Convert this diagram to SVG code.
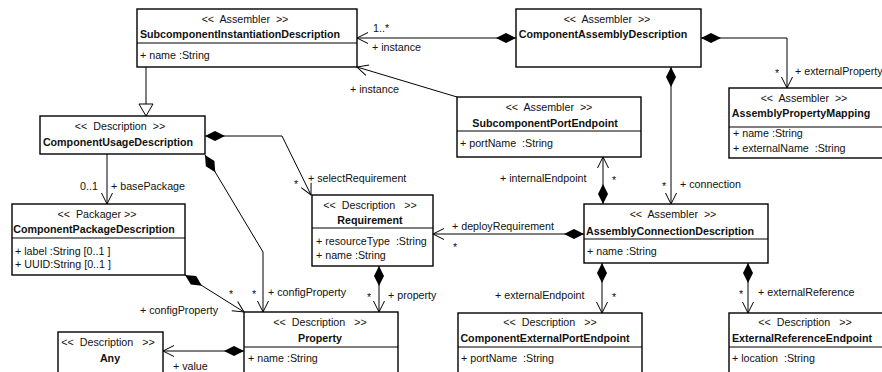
<svg xmlns="http://www.w3.org/2000/svg" width="882" height="372" viewBox="0 0 882 372">
<style>
text{font-family:"Liberation Sans",Arial,sans-serif;font-size:10.7px;fill:#111;white-space:pre}
.st{text-anchor:middle}
.nm{text-anchor:middle;font-weight:bold}
.box{fill:#fff;stroke:#000;stroke-width:1.4}
.div{stroke:#000;stroke-width:1.2}
.con{fill:none;stroke:#000;stroke-width:1}
</style>
<defs>
<marker id="arr" markerUnits="userSpaceOnUse" markerWidth="14" markerHeight="14" viewBox="-13 -7 14 14" refX="0" refY="0" orient="auto"><path d="M-11,-5.5 L0,0 L-11,5.5" fill="none" stroke="#000" stroke-width="1"/></marker>
<marker id="dia" markerUnits="userSpaceOnUse" markerWidth="22" markerHeight="12" viewBox="0 -6 22 12" refX="0" refY="0" orient="auto"><path d="M0,0 L10,-5 L20,0 L10,5 Z" fill="#000"/></marker>
<marker id="tri" markerUnits="userSpaceOnUse" markerWidth="16" markerHeight="16" viewBox="-14 -8 16 16" refX="0" refY="0" orient="auto"><path d="M-12,-7 L0,0 L-12,7 Z" fill="#fff" stroke="#000" stroke-width="1"/></marker>
</defs>
<rect width="882" height="372" fill="#fff"/>

<g id="connectors">
<path class="con" d="M146,67 L146,116" marker-end="url(#tri)"/>
<path class="con" d="M516,38 L357,38" marker-start="url(#dia)" marker-end="url(#arr)"/>
<path class="con" d="M457,97 L357,67" marker-end="url(#arr)"/>
<path class="con" d="M701,38 L787,38 L787,88" marker-start="url(#dia)" marker-end="url(#arr)"/>
<path class="con" d="M671,67 L671,204" marker-start="url(#dia)" marker-end="url(#arr)"/>
<path class="con" d="M603,204 L603,157" marker-start="url(#dia)" marker-end="url(#arr)"/>
<path class="con" d="M584,234 L433,234" marker-start="url(#dia)" marker-end="url(#arr)"/>
<path class="con" d="M602,263 L602,313" marker-start="url(#dia)" marker-end="url(#arr)"/>
<path class="con" d="M748,263 L748,313" marker-start="url(#dia)" marker-end="url(#arr)"/>
<path class="con" d="M379,266 L379,312" marker-start="url(#dia)" marker-end="url(#arr)"/>
<path class="con" d="M244,351 L163,351" marker-start="url(#dia)" marker-end="url(#arr)"/>
<path class="con" d="M205,136 L282,136 L311,195" marker-start="url(#dia)" marker-end="url(#arr)"/>
<path class="con" d="M205,155 L263,252 L263,312" marker-start="url(#dia)" marker-end="url(#arr)"/>
<path class="con" d="M185,275 L244,312" marker-start="url(#dia)" marker-end="url(#arr)"/>
<path class="con" d="M107,154 L107,204" marker-end="url(#arr)"/>
<text x="373" y="32">1..*</text>
<text x="372" y="51">+ instance</text>
<text x="350" y="93">+ instance</text>
<text x="775" y="77">*</text>
<text x="795" y="75">+ externalProperty</text>
<text x="662" y="190">*</text>
<text x="680" y="188">+ connection</text>
<text x="500" y="182">+ internalEndpoint</text>
<text x="612" y="184">*</text>
<text x="452" y="230">+ deployRequirement</text>
<text x="453" y="251">*</text>
<text x="308" y="182">+ selectRequirement</text>
<text x="294" y="188">*</text>
<text x="80" y="190">0..1</text>
<text x="111" y="190">+ basePackage</text>
<text x="229" y="298">*</text>
<text x="140" y="314">+ configProperty</text>
<text x="252" y="298">*</text>
<text x="268" y="296">+ configProperty</text>
<text x="367" y="301">*</text>
<text x="388" y="299">+ property</text>
<text x="173" y="370">+ value</text>
<text x="495" y="299">+ externalEndpoint</text>
<text x="612" y="301">*</text>
<text x="739" y="298">*</text>
<text x="758" y="296">+ externalReference</text>
</g>

<g id="SubcomponentInstantiationDescription">
<rect class="box" x="137" y="9" width="220" height="58"/>
<line class="div" x1="137" y1="43" x2="357" y2="43"/>
<text class="st" x="245" y="23">&lt;&lt;  Assembler  &gt;&gt;</text>
<text class="nm" x="240" y="38">SubcomponentInstantiationDescription</text>
<text x="140" y="59">+ name :String</text>
</g>

<g id="ComponentAssemblyDescription">
<rect class="box" x="516" y="9" width="185" height="58"/>
<text class="st" x="607" y="23">&lt;&lt;  Assembler  &gt;&gt;</text>
<text class="nm" x="603" y="38">ComponentAssemblyDescription</text>
</g>

<g id="ComponentUsageDescription">
<rect class="box" x="40" y="116" width="165" height="38"/>
<text class="st" x="120" y="130">&lt;&lt;  Description  &gt;&gt;</text>
<text class="nm" x="118" y="146">ComponentUsageDescription</text>
</g>

<g id="SubcomponentPortEndpoint">
<rect class="box" x="457" y="97" width="184" height="60"/>
<line class="div" x1="457" y1="131" x2="641" y2="131"/>
<text class="st" x="549" y="111">&lt;&lt;  Assembler  &gt;&gt;</text>
<text class="nm" x="545" y="127">SubcomponentPortEndpoint</text>
<text x="460" y="147">+ portName  :String</text>
</g>

<g id="AssemblyPropertyMapping">
<rect class="box" x="729" y="88" width="165" height="70"/>
<line class="div" x1="729" y1="127" x2="894" y2="127"/>
<text class="st" x="804" y="102">&lt;&lt;  Assembler  &gt;&gt;</text>
<text class="nm" x="801" y="117">AssemblyPropertyMapping</text>
<text x="733" y="137">+ name :String</text>
<text x="733" y="152">+ externalName  :String</text>
</g>

<g id="ComponentPackageDescription">
<rect class="box" x="12" y="204" width="173" height="71"/>
<line class="div" x1="12" y1="238" x2="185" y2="238"/>
<text class="st" x="97" y="218">&lt;&lt;  Packager &gt;&gt;</text>
<text class="nm" x="94" y="233">ComponentPackageDescription</text>
<text x="15" y="255">+ label :String [0..1 ]</text>
<text x="15" y="268">+ UUID:String [0..1 ]</text>
</g>

<g id="Requirement">
<rect class="box" x="312" y="195" width="121" height="71"/>
<line class="div" x1="312" y1="228" x2="433" y2="228"/>
<text class="st" x="370" y="209">&lt;&lt;  Description   &gt;&gt;</text>
<text class="nm" x="370" y="224">Requirement</text>
<text x="316" y="245">+ resourceType  :String</text>
<text x="316" y="259">+ name :String</text>
</g>

<g id="AssemblyConnectionDescription">
<rect class="box" x="584" y="204" width="184" height="59"/>
<line class="div" x1="584" y1="239" x2="768" y2="239"/>
<text class="st" x="673" y="218">&lt;&lt;  Assembler  &gt;&gt;</text>
<text class="nm" x="670" y="235">AssemblyConnectionDescription</text>
<text x="587" y="255">+ name :String</text>
</g>

<g id="Any">
<rect class="box" x="58" y="332" width="105" height="50"/>
<text class="st" x="108" y="346">&lt;&lt;  Description   &gt;&gt;</text>
<text class="nm" x="110" y="362">Any</text>
</g>

<g id="Property">
<rect class="box" x="244" y="312" width="154" height="70"/>
<line class="div" x1="244" y1="347" x2="398" y2="347"/>
<text class="st" x="320" y="326">&lt;&lt;  Description   &gt;&gt;</text>
<text class="nm" x="320" y="342">Property</text>
<text x="248" y="362">+ name :String</text>
</g>

<g id="ComponentExternalPortEndpoint">
<rect class="box" x="458" y="313" width="184" height="70"/>
<line class="div" x1="458" y1="347" x2="642" y2="347"/>
<text class="st" x="550" y="326">&lt;&lt;  Description   &gt;&gt;</text>
<text class="nm" x="545" y="342">ComponentExternalPortEndpoint</text>
<text x="461" y="362">+ portName  :String</text>
</g>

<g id="ExternalReferenceEndpoint">
<rect class="box" x="729" y="313" width="165" height="70"/>
<line class="div" x1="729" y1="347" x2="894" y2="347"/>
<text class="st" x="805" y="326">&lt;&lt;  Description   &gt;&gt;</text>
<text class="nm" x="802" y="342">ExternalReferenceEndpoint</text>
<text x="732" y="362">+ location  :String</text>
</g>
</svg>
